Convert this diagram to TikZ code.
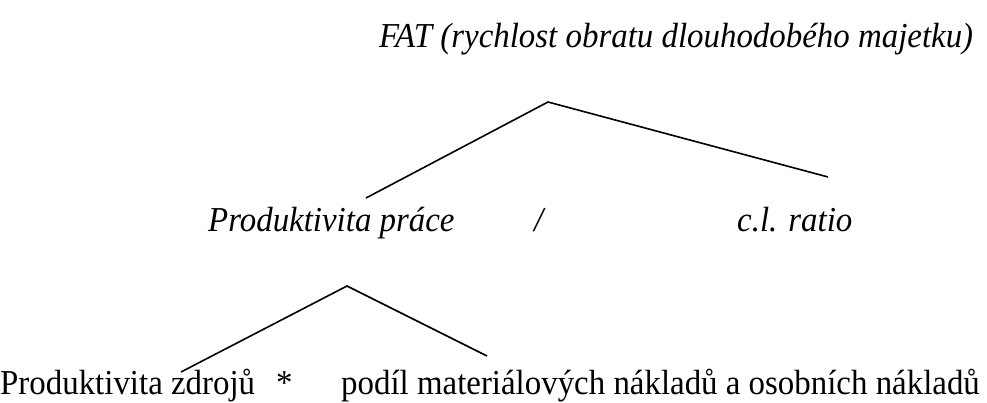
\documentclass[tikz,border=0pt]{standalone}
\usepackage{fontspec}
\setmainfont{Liberation Serif}
\newcommand{\nrw}[1]{\scalebox{0.94}[1]{#1}}
\begin{document}
\begin{tikzpicture}[x=1pt,y=-1pt,
  lbl/.style={inner sep=0pt,anchor=base west,font=\fontsize{35}{38}\selectfont},
  conn/.style={line width=1.6pt}]
\useasboundingbox (0,0) rectangle (987,403);
\node[lbl] (fat) at (379,48) {\nrw{\itshape FAT (rychlost obratu dlouhodobého majetku)}};
\coordinate (a1) at (548,102);
\coordinate (l1) at (366,198);
\coordinate (r1) at (828,177);
\draw[conn] (l1) -- (a1) -- (r1);
\node[lbl] (pp) at (208,232) {\nrw{\itshape Produktivita práce}};
\node[lbl] (sl) at (534,232) {\nrw{\itshape /}};
\node[lbl] (cl) at (737,232) {\nrw{\itshape c.l. ratio}};
\coordinate (a2) at (347,286);
\coordinate (l2) at (181,372);
\coordinate (r2) at (487,356);
\draw[conn] (l2) -- (a2) -- (r2);
\node[lbl] (pz) at (0,394) {\nrw{Produktivita zdrojů}};
\node[lbl] (st) at (276,394) {\nrw{*}};
\node[lbl] (pn) at (341,394) {\nrw{podíl materiálových nákladů a osobních nákladů}};
\end{tikzpicture}
\end{document}
